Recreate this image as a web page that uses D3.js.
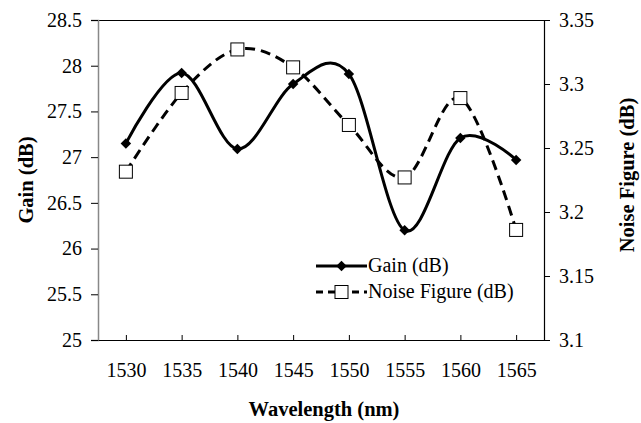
<!DOCTYPE html>
<html>
<head>
<meta charset="utf-8">
<script src="https://cdn.jsdelivr.net/npm/d3@7"></script>
<style>
  html, body { margin: 0; padding: 0; background: #fff; }
  svg { display: block; font-family: "Liberation Serif", "Times New Roman", serif; }
</style>
</head>
<body>
<svg id="chart" width="641" height="423"></svg>
<script>
// Wavelength sweep (nm)
const wavelengths = [1530, 1535, 1540, 1545, 1550, 1555, 1560, 1565];
// Gain (dB), left axis
const gainValues = [27.15, 27.92, 27.09, 27.8, 27.91, 26.2, 27.21, 26.97];
// Noise figure (dB), right axis
const noiseValues = [3.2315, 3.293, 3.327, 3.313, 3.268, 3.227, 3.289, 3.186];
// Axis ticks
const gainTicks = [25, 25.5, 26, 26.5, 27, 27.5, 28, 28.5];
const noiseTicks = [3.1, 3.15, 3.2, 3.25, 3.3, 3.35];

const svg = d3.select("#chart");
const plotLeft = 98, plotRight = 544, plotTop = 20, plotBottom = 340;
const tickFont = 20, titleFont = 20.5, legendFont = 20;
const serif = "Liberation Serif";

const x = d3.scaleLinear().domain([1527.5, 1567.5]).range([plotLeft, plotRight]);
const yGain = d3.scaleLinear().domain([25, 28.5]).range([plotBottom, plotTop]);
const yNoise = d3.scaleLinear().domain([3.1, 3.35]).range([plotBottom, plotTop]);

// Plot frame: top edge
svg.append("line").attr("x1", plotLeft).attr("x2", plotRight).attr("y1", plotTop + 0.5).attr("y2", plotTop + 0.5)
  .attr("stroke", "#000").attr("stroke-width", 1.2);

// Left axis (gain)
const gAxisL = svg.append("g").attr("transform", `translate(${plotLeft},0)`)
  .call(d3.axisLeft(yGain).tickValues(gainTicks).tickSize(7).tickPadding(9).tickFormat(d3.format("")));
gAxisL.attr("font-family", serif);
gAxisL.select(".domain").attr("stroke", "#888").attr("stroke-width", 1.5);
gAxisL.selectAll(".tick line").attr("stroke", "#000");
gAxisL.selectAll("text").attr("font-size", tickFont).attr("fill", "#000");

// Right axis (noise figure)
const gAxisR = svg.append("g").attr("transform", `translate(${plotRight},0)`)
  .call(d3.axisRight(yNoise).tickValues(noiseTicks).tickSize(6).tickPadding(9).tickFormat(d3.format("")));
gAxisR.attr("font-family", serif);
gAxisR.select(".domain").attr("stroke", "#000").attr("stroke-width", 1.2);
gAxisR.selectAll("text").attr("font-size", tickFont).attr("fill", "#000");

// Bottom axis (wavelength), ticks point inward
const gAxisB = svg.append("g").attr("transform", `translate(0,${plotBottom})`)
  .call(d3.axisBottom(x).tickValues(wavelengths).tickSizeInner(-5).tickSizeOuter(0).tickPadding(23).tickFormat(d3.format("")));
gAxisB.attr("font-family", serif);
gAxisB.select(".domain").attr("stroke", "#000").attr("stroke-width", 1.2);
gAxisB.selectAll("text").attr("font-size", tickFont).attr("fill", "#000");

// Axis titles
svg.append("text").attr("transform", "translate(33,180) rotate(-90)")
  .attr("text-anchor", "middle").attr("font-weight", "bold").attr("font-size", titleFont).text("Gain (dB)");
svg.append("text").attr("transform", "translate(634,175) rotate(-90)")
  .attr("text-anchor", "middle").attr("font-weight", "bold").attr("font-size", titleFont).text("Noise Figure (dB)");
svg.append("text").attr("x", 324).attr("y", 416)
  .attr("text-anchor", "middle").attr("font-weight", "bold").attr("font-size", titleFont).text("Wavelength (nm)");

// Series lines (smoothed)
const curve = d3.curveCatmullRom.alpha(0);
const gainLine = d3.line().x((d, i) => x(wavelengths[i])).y(d => yGain(d)).curve(curve);
const noiseLine = d3.line().x((d, i) => x(wavelengths[i])).y(d => yNoise(d)).curve(curve);

svg.append("path").datum(noiseValues).attr("d", noiseLine)
  .attr("fill", "none").attr("stroke", "#000").attr("stroke-width", 3).attr("stroke-dasharray", "10,6");
svg.append("path").datum(gainValues).attr("d", gainLine)
  .attr("fill", "none").attr("stroke", "#000").attr("stroke-width", 3);

// Markers
const diamond = d3.symbol().type(d3.symbolDiamond2).size(70);
svg.append("g").selectAll("path").data(gainValues).join("path")
  .attr("transform", (d, i) => `translate(${x(wavelengths[i])},${yGain(d)})`)
  .attr("d", diamond).attr("fill", "#000");

const sq = 13;
svg.append("g").selectAll("rect").data(noiseValues).join("rect")
  .attr("x", (d, i) => x(wavelengths[i]) - sq / 2).attr("y", d => yNoise(d) - sq / 2)
  .attr("width", sq).attr("height", sq)
  .attr("fill", "#fff").attr("stroke", "#000").attr("stroke-width", 1);

// Legend
const legend = svg.append("g");
legend.append("line").attr("x1", 316).attr("x2", 367).attr("y1", 266).attr("y2", 266)
  .attr("stroke", "#000").attr("stroke-width", 3);
legend.append("path").attr("transform", "translate(341.5,266)").attr("d", diamond).attr("fill", "#000");
legend.append("text").attr("x", 368).attr("y", 272).attr("font-size", legendFont).text("Gain (dB)");

legend.append("line").attr("x1", 316).attr("x2", 367).attr("y1", 292).attr("y2", 292)
  .attr("stroke", "#000").attr("stroke-width", 3).attr("stroke-dasharray", "7,5");
legend.append("rect").attr("x", 341.5 - sq / 2).attr("y", 292 - sq / 2).attr("width", sq).attr("height", sq)
  .attr("fill", "#fff").attr("stroke", "#000").attr("stroke-width", 1);
legend.append("text").attr("x", 368).attr("y", 298).attr("font-size", legendFont).text("Noise Figure (dB)");
</script>
</body>
</html>
